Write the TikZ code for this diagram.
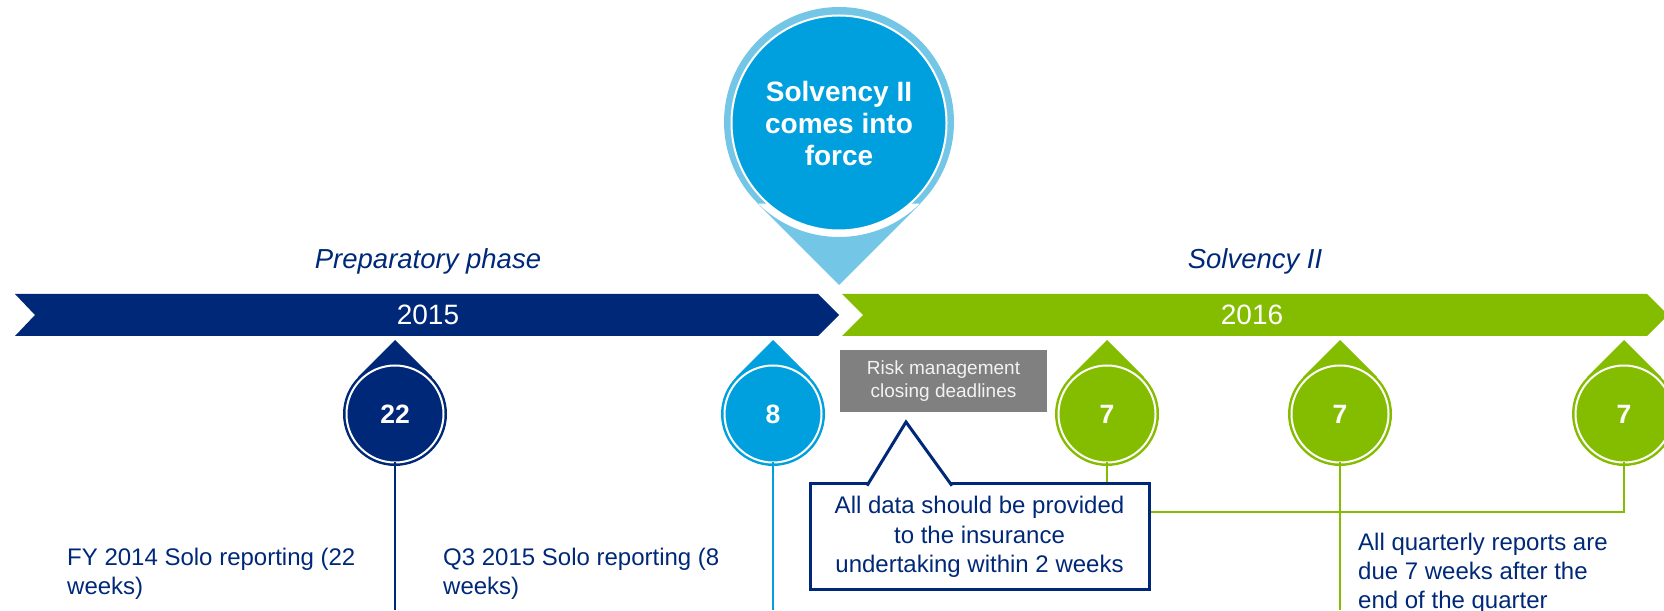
\documentclass[tikz,border=0pt]{standalone}
\usepackage{fontspec}
\setmainfont{Liberation Sans}
\definecolor{navy}{RGB}{0,40,120}
\definecolor{sblue}{RGB}{0,160,222}
\definecolor{lblue}{RGB}{116,198,230}
\definecolor{sgreen}{RGB}{132,189,0}
\definecolor{sgrey}{RGB}{128,128,128}
\newcommand\droppin[4]{%
  \fill[#3] (#2,196) circle[radius=52] (#2,270) -- ++(-36.8,-36.8) -- ++(73.6,0) -- cycle;
  \node[pinnode, fill=#3] (#1) at (#2,196) {#4};
}
\begin{document}
\begin{tikzpicture}[x=1pt,y=1pt,
  pinnode/.style={circle, inner sep=0pt, outer sep=0pt, minimum size=97pt, draw=white, line width=2pt, text=white, font=\fontsize{26.5}{30}\selectfont\bfseries},
  bodytext/.style={text=navy, align=left, font=\fontsize{24}{29}\selectfont, inner sep=0pt},
  yeartext/.style={text=white, font=\fontsize{28}{32}\selectfont},
  phasetext/.style={text=navy, font=\fontsize{27.5}{32}\selectfont\itshape},
  vline/.style={line width=1.8pt}
]
\useasboundingbox (0,0) rectangle (1664,610);
\clip (0,0) rectangle (1664,610);
% bands
\fill[navy] (15,316) -- (818,316) -- (839,295) -- (818,274) -- (15,274) -- (35,295) -- cycle;
\fill[sgreen] (842,316) -- (1647,316) -- (1668,295) -- (1647,274) -- (842,274) -- (863,295) -- cycle;
\node[yeartext] (y2015) at (428,295) {2015};
\node[yeartext] (y2016) at (1252,295) {2016};
\node[phasetext] (prep) at (428,349) {Preparatory phase};
\node[phasetext] (sii2) at (1255,349) {Solvency II};
% big pin
\fill[lblue] (839,488) circle[radius=115] (839,325) -- ++(-81.4,81.4) -- ++(162.8,0) -- cycle;
\node[circle, inner sep=0pt, outer sep=0pt, minimum size=215pt, fill=sblue, draw=white, line width=2pt,
  text=white, align=center, font=\fontsize{28}{32}\selectfont\bfseries] (sii) at (839,487) {Solvency II\\comes into\\force};
% small pins
\droppin{p22}{395}{navy}{22}
\droppin{p8}{773}{sblue}{8}
\droppin{g1}{1107}{sgreen}{7}
\droppin{g2}{1340}{sgreen}{7}
\droppin{g3}{1624}{sgreen}{7}
% lines
\coordinate (bot) at (0,0);
\coordinate (hy) at (0,98);
\draw[vline, navy] (p22.south) -- (p22.south |- bot);
\draw[vline, sblue] (p8.south) -- (p8.south |- bot);
\draw[vline, sgreen] (g1.south) |- (g3.south |- hy) -- (g3.south);
\draw[vline, sgreen] (g2.south) -- (g2.south |- bot);
% grey box
\node[fill=sgrey, minimum width=207pt, minimum height=62pt, inner sep=0pt, text={rgb,255:red,242;green,242;blue,242}, align=center, font=\fontsize{19}{23}\selectfont] (risk) at (943.5,229) {Risk management\\closing deadlines};
% callout
\node[draw=navy, line width=3pt, fill=white, minimum width=339pt, minimum height=106pt, inner sep=0pt, text=navy, align=center, font=\fontsize{24}{29.5}\selectfont] (call) at (979.5,73) {All data should be provided\\to the insurance\\undertaking within 2 weeks};
\filldraw[fill=white, draw=navy, line width=3pt, line join=miter] (867,124.3) -- (906,188) -- (952,124.3);
% texts
\node[bodytext, anchor=west] (fy) at (67,36) {FY 2014 Solo reporting (22\\weeks)};
\node[bodytext, anchor=west] (q3) at (443,36) {Q3 2015 Solo reporting (8\\weeks)};
\node[bodytext, anchor=west] (qr) at (1358,37) {All quarterly reports are\\due 7 weeks after the\\end of the quarter};
\end{tikzpicture}
\end{document}
